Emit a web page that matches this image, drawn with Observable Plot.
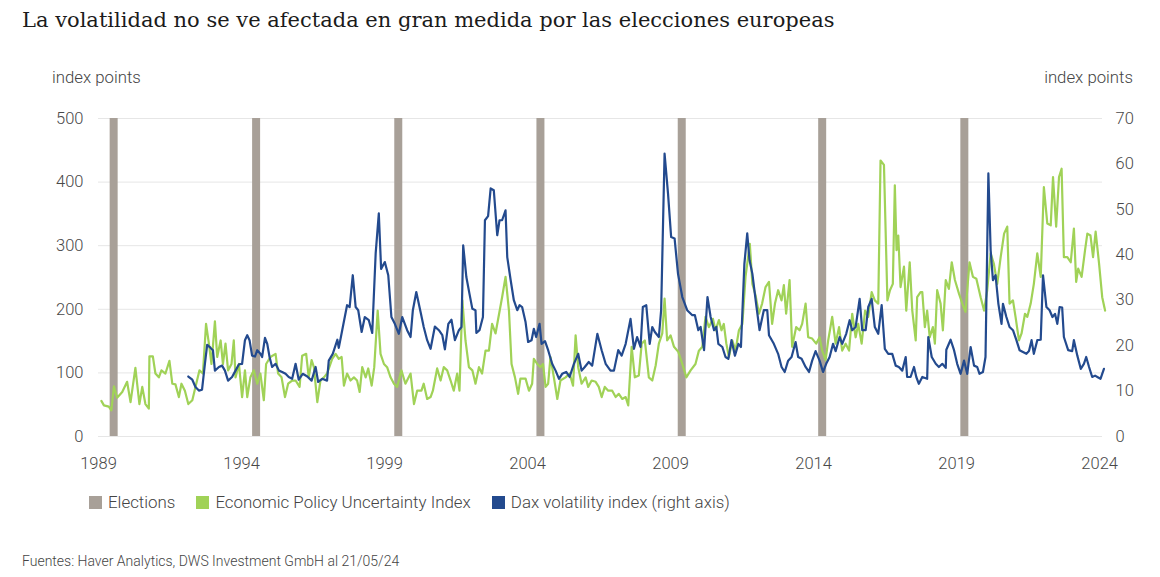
<!DOCTYPE html>
<html>
<head>
<meta charset="utf-8">
<script src="https://cdn.jsdelivr.net/npm/d3@7"></script>
<script src="https://cdn.jsdelivr.net/npm/@observablehq/plot@0.6"></script>
<style>
  html, body { margin: 0; padding: 0; background: #fff; }
  #page { position: relative; width: 1160px; height: 577px; overflow: hidden; background: #fff; font-family: Roboto, "Noto Sans", sans-serif; }
  #title { position: absolute; left: 22px; top: 8px; font-family: "DejaVu Serif", serif; font-size: 21px; color: #1b1b1b; white-space: nowrap; }
  .unit { position: absolute; top: 67px; font-size: 16.8px; font-weight: 300; color: #444; white-space: nowrap; }
  #unitL { left: 52px; }
  #unitR { right: 27px; }
  #chart { position: absolute; left: 0; top: 56px; }
  #legend { position: absolute; left: 89px; top: 492px; display: flex; align-items: center; font-size: 16.9px; font-weight: 300; color: #444; white-space: nowrap; }
  #legend .item { display: flex; align-items: center; margin-right: 21px; }
  #legend .sw { width: 13px; height: 13px; margin-right: 6px; }
  #caption { position: absolute; left: 22px; top: 553px; font-size: 14px; font-weight: 300; color: #444; white-space: nowrap; }
</style>
</head>
<body>
<div id="page">
  <div id="title">La volatilidad no se ve afectada en gran medida por las elecciones europeas</div>
  <div class="unit" id="unitL">index points</div>
  <div class="unit" id="unitR">index points</div>
  <div id="chart"></div>
  <div id="legend"></div>
  <div id="caption">Fuentes: Haver Analytics, DWS Investment GmbH al 21/05/24</div>
</div>
<script>
// ---- data (decimal year, value) ----
const elections = [1989.53, 1994.51, 1999.48, 2004.45, 2009.39, 2014.30, 2019.27];

// Economic Policy Uncertainty Index (left axis)
const epu = [
[1989.10,56],[1989.19,49],[1989.36,47],[1989.45,41],[1989.54,79],[1989.65,61],[1989.83,70],[1990.00,86],[1990.12,54],[1990.29,108],[1990.43,51],[1990.53,78],[1990.64,51],[1990.76,44],[1990.78,126],[1990.90,126],[1990.99,99],[1991.11,93],[1991.20,104],[1991.34,99],[1991.48,119],[1991.58,83],[1991.69,82],[1991.81,62],[1991.90,83],[1992.02,72],[1992.14,51],[1992.28,57],[1992.39,78],[1992.53,104],[1992.65,99],[1992.76,177],[1992.86,146],[1992.95,114],[1993.07,181],[1993.15,125],[1993.27,151],[1993.35,114],[1993.44,146],[1993.53,104],[1993.65,114],[1993.73,151],[1993.79,93],[1993.91,114],[1994.02,62],[1994.12,104],[1994.20,62],[1994.31,93],[1994.43,104],[1994.55,83],[1994.66,99],[1994.78,57],[1994.86,114],[1995.01,125],[1995.19,130],[1995.28,99],[1995.40,93],[1995.52,62],[1995.63,83],[1995.77,88],
[1995.89,88],[1996.03,78],[1996.12,127],[1996.26,130],[1996.35,93],[1996.45,120],[1996.53,109],[1996.65,54],[1996.76,88],[1996.88,93],[1996.99,99],[1997.17,122],[1997.29,130],[1997.40,122],[1997.50,125],[1997.58,80],[1997.69,99],[1997.81,88],[1997.93,93],[1998.04,88],[1998.13,70],[1998.22,109],[1998.34,93],[1998.43,107],[1998.55,80],[1998.64,109],[1998.76,198],[1998.86,130],[1998.98,114],[1999.09,109],[1999.21,93],[1999.33,83],[1999.44,78],[1999.59,104],[1999.73,83],[1999.91,99],[2000.03,51],[2000.14,72],[2000.29,72],[2000.37,83],[2000.49,59],[2000.61,62],[2000.69,72],[2000.84,107],[2000.96,88],[2001.07,109],[2001.19,104],[2001.31,88],[2001.42,72],[2001.54,99],[2001.62,72],[2001.72,214],[2001.83,151],[2001.95,109],[2002.07,104],[2002.18,83],[2002.30,109],[2002.41,99],[2002.53,135],[2002.65,135],[2002.76,177],[2002.88,162],
[2003.11,219],[2003.23,251],[2003.35,198],[2003.44,114],[2003.56,93],[2003.67,67],[2003.75,91],[2003.93,91],[2004.05,72],[2004.16,83],[2004.22,122],[2004.34,114],[2004.45,109],[2004.54,114],[2004.63,78],[2004.72,83],[2004.80,125],[2004.92,93],[2005.04,59],[2005.15,88],[2005.33,93],[2005.47,99],[2005.59,80],[2005.68,159],[2005.77,109],[2005.89,83],[2006.03,93],[2006.12,78],[2006.24,88],[2006.38,86],[2006.49,78],[2006.59,62],[2006.70,78],[2006.82,72],[2006.96,72],[2007.08,62],[2007.19,67],[2007.31,59],[2007.43,62],[2007.52,49],[2007.64,141],[2007.75,93],[2007.89,96],[2007.99,146],[2008.10,151],[2008.24,93],[2008.36,88],[2008.48,112],[2008.59,146],[2008.71,162],[2008.79,217],[2008.88,151],[2009.00,159],[2009.12,141],[2009.27,133],[2009.41,114],[2009.55,93],[2009.70,104],[2009.87,114],
[2009.99,135],[2010.11,141],[2010.22,188],[2010.34,172],[2010.48,185],[2010.57,167],[2010.69,183],[2010.78,167],[2010.86,177],[2010.95,146],[2011.04,125],[2011.16,151],[2011.27,135],[2011.39,167],[2011.51,177],[2011.62,251],[2011.77,303],[2011.86,240],[2011.97,222],[2012.09,193],[2012.20,209],[2012.32,235],[2012.44,243],[2012.55,177],[2012.65,209],[2012.76,230],[2012.88,214],[2012.96,238],[2013.04,193],[2013.16,246],[2013.25,141],[2013.39,172],[2013.51,167],[2013.60,177],[2013.72,209],[2013.81,156],[2013.95,154],[2014.09,146],[2014.21,156],[2014.30,135],[2014.42,120],[2014.51,151],[2014.65,188],[2014.77,146],[2014.89,172],[2015.00,135],[2015.12,146],[2015.24,135],[2015.35,193],[2015.47,156],[2015.56,177],[2015.68,146],[2015.80,198],[2015.91,188],[2016.03,227],[2016.14,214],[2016.26,209],[2016.34,434],[2016.46,427],[2016.58,214],[2016.67,230],[2016.77,240],[2016.84,395],[2016.90,293],[2016.96,316],
[2017.04,235],[2017.16,267],[2017.24,198],[2017.36,274],[2017.45,198],[2017.57,151],[2017.62,219],[2017.74,227],[2017.80,227],[2017.89,172],[2017.97,198],[2018.06,156],[2018.17,172],[2018.24,146],[2018.32,230],[2018.44,209],[2018.52,167],[2018.62,246],[2018.73,232],[2018.83,274],[2018.94,246],[2019.08,225],[2019.20,209],[2019.31,196],[2019.45,274],[2019.57,251],[2019.69,248],[2019.84,219],[2019.96,198],[2020.07,230],[2020.19,288],[2020.30,272],[2020.42,240],[2020.54,282],[2020.66,319],[2020.77,330],[2020.85,209],[2020.97,214],[2021.06,188],[2021.18,151],[2021.27,162],[2021.39,193],[2021.47,188],[2021.59,209],[2021.70,240],[2021.82,288],[2021.94,251],[2022.05,392],[2022.17,335],[2022.29,332],[2022.37,408],[2022.48,330],[2022.58,408],[2022.67,421],[2022.75,282],[2022.87,282],[2022.99,274],[2023.10,327],[2023.18,243],[2023.25,264],[2023.37,251],[2023.49,293],[2023.57,319],[2023.68,316],[2023.77,282],[2023.86,322],[2023.98,272],[2024.09,219],[2024.19,198]
];

// Dax volatility index (right axis)
const vdax = [
[1992.14,13.2],[1992.28,12.5],[1992.39,10.9],[1992.51,10.1],[1992.62,10.3],[1992.72,16.0],[1992.80,20.2],[1992.92,19.5],[1993.00,19.0],[1993.07,14.5],[1993.21,15.3],[1993.32,15.6],[1993.42,14.5],[1993.53,12.3],[1993.67,13.1],[1993.79,14.5],[1993.91,15.9],[1994.02,16.0],[1994.12,21.2],[1994.20,22.3],[1994.28,21.2],[1994.37,17.8],[1994.47,17.6],[1994.55,19.0],[1994.66,18.2],[1994.72,17.5],[1994.82,21.7],[1994.90,20.4],[1994.98,17.5],[1995.07,15.3],[1995.19,16.0],[1995.31,14.5],[1995.42,14.2],[1995.54,13.8],[1995.65,13.1],[1995.77,12.7],[1995.89,16.0],
[1996.00,12.5],[1996.14,13.8],[1996.30,13.2],[1996.45,12.3],[1996.59,15.3],[1996.68,12.0],[1996.82,12.7],[1996.99,12.3],[1997.05,16.7],[1997.19,18.2],[1997.35,21.3],[1997.40,19.5],[1997.52,23.4],[1997.69,28.9],[1997.78,28.5],[1997.89,35.5],[1997.99,28.5],[1998.08,27.8],[1998.20,23.0],[1998.31,26.3],[1998.45,25.6],[1998.57,22.8],[1998.69,40.3],[1998.80,49.1],[1998.88,36.9],[1999.01,38.4],[1999.13,35.5],[1999.24,26.3],[1999.36,24.8],[1999.50,22.6],[1999.62,26.3],[1999.79,23.4],[1999.91,21.9],[1999.99,27.8],[2000.11,31.8],[2000.26,27.4],[2000.37,24.1],[2000.49,21.2],[2000.61,19.3],[2000.76,24.2],[2000.90,23.4],[2001.02,22.3],[2001.11,19.2],[2001.23,24.8],[2001.34,25.7],[2001.46,21.2],[2001.60,23.4],[2001.69,24.1],[2001.75,42.1],[2001.86,35.1],[2001.97,31.4],[2002.07,28.1],[2002.18,27.8],[2002.21,22.8],[2002.32,23.4],[2002.44,26.3],[2002.51,47.6],[2002.62,48.5],[2002.71,54.6],[2002.82,54.2],[2002.94,44.3],[2003.02,47.6],
[2003.11,47.6],[2003.23,49.8],[2003.29,39.5],[2003.41,34.4],[2003.52,30.0],[2003.64,27.8],[2003.72,28.9],[2003.81,28.5],[2003.93,25.2],[2004.02,20.8],[2004.14,21.2],[2004.22,23.7],[2004.30,21.9],[2004.42,24.8],[2004.49,20.4],[2004.61,21.0],[2004.72,19.0],[2004.86,16.0],[2004.98,14.5],[2005.10,12.7],[2005.21,13.8],[2005.35,14.2],[2005.47,13.1],[2005.62,16.0],[2005.77,18.2],[2005.89,14.5],[2006.00,15.3],[2006.14,16.4],[2006.26,15.6],[2006.44,22.6],[2006.59,19.0],[2006.73,16.0],[2006.90,14.5],[2007.02,14.5],[2007.17,19.0],[2007.29,17.8],[2007.43,20.4],[2007.60,25.9],[2007.72,19.3],[2007.83,21.9],[2007.95,19.7],[2008.03,28.5],[2008.15,28.9],[2008.27,20.4],[2008.36,24.1],[2008.45,23.0],[2008.59,21.9],[2008.67,27.8],[2008.79,62.3],[2008.91,53.5],[2009.02,43.9],[2009.14,43.6],[2009.26,35.8],[2009.41,30.7],[2009.58,27.8],[2009.76,26.7],[2009.85,26.7],
[2009.97,23.4],[2010.05,24.1],[2010.17,19.0],[2010.29,30.7],[2010.40,26.3],[2010.52,23.4],[2010.60,24.1],[2010.67,20.4],[2010.81,19.7],[2010.92,17.5],[2011.02,17.1],[2011.13,21.2],[2011.25,17.8],[2011.37,20.4],[2011.46,19.7],[2011.58,38.0],[2011.68,44.7],[2011.76,38.8],[2011.86,35.8],[2011.99,29.2],[2012.11,23.4],[2012.26,27.8],[2012.38,27.8],[2012.44,22.3],[2012.61,20.4],[2012.76,18.2],[2012.88,15.3],[2012.99,14.2],[2013.11,16.7],[2013.23,17.5],[2013.37,20.8],[2013.46,17.5],[2013.58,17.1],[2013.72,15.3],[2013.84,14.2],[2013.95,16.7],[2014.07,18.8],[2014.21,16.7],[2014.33,14.2],[2014.44,16.0],[2014.56,17.5],[2014.68,20.4],[2014.77,18.8],[2014.91,21.9],[2015.00,20.4],[2015.14,22.6],[2015.26,25.6],[2015.35,23.4],[2015.47,24.1],[2015.61,30.3],[2015.70,23.4],[2015.82,23.4],[2015.91,28.5],[2016.03,30.3],[2016.14,24.1],[2016.26,22.6],[2016.38,28.9],[2016.49,19.3],[2016.61,18.2],[2016.75,18.2],[2016.87,15.6],
[2016.98,15.3],[2017.10,14.5],[2017.22,17.5],[2017.27,13.1],[2017.39,13.1],[2017.51,15.3],[2017.59,13.1],[2017.68,11.6],[2017.80,13.1],[2017.97,12.7],[2018.01,21.9],[2018.13,17.5],[2018.27,16.0],[2018.38,15.3],[2018.50,16.0],[2018.62,15.1],[2018.64,19.1],[2018.79,21.3],[2018.91,19.0],[2019.02,16.0],[2019.14,13.8],[2019.26,16.7],[2019.37,13.8],[2019.49,19.7],[2019.61,15.6],[2019.72,15.3],[2019.80,13.8],[2019.92,14.2],[2020.01,17.5],[2020.11,57.9],[2020.19,41.0],[2020.27,34.4],[2020.36,35.5],[2020.46,29.2],[2020.57,24.8],[2020.62,29.2],[2020.74,26.3],[2020.85,24.1],[2020.97,23.4],[2021.09,21.2],[2021.20,19.0],[2021.32,18.6],[2021.44,18.2],[2021.53,18.8],[2021.62,21.2],[2021.70,18.2],[2021.82,21.2],[2021.94,21.3],[2022.02,35.5],[2022.14,28.5],[2022.25,27.8],[2022.35,26.3],[2022.44,27.0],[2022.52,24.8],[2022.60,28.5],[2022.69,28.4],[2022.75,21.9],[2022.90,19.0],[2023.04,18.8],[2023.10,21.2],[2023.22,17.8],[2023.34,14.9],[2023.45,16.0],[2023.53,17.5],[2023.63,15.3],[2023.74,13.1],[2023.84,13.4],[2023.92,13.1],[2024.03,12.7],[2024.15,14.9]
];

const xTicks = [1989, 1994, 1999, 2004, 2009, 2014, 2019, 2024];
const leftTicks = [0, 100, 200, 300, 400, 500];
const rightTicks = [0, 10, 20, 30, 40, 50, 60, 70];

const seriesNames = ["Elections", "Economic Policy Uncertainty Index", "Dax volatility index (right axis)"];
const seriesColors = ["#a8a098", "#a0d257", "#234a8e"];

// ---- chart ----
const leftMax = 500, rightMax = 70;
const toLeft = v => v * leftMax / rightMax;

const chart = Plot.plot({
  width: 1160,
  height: 424,
  marginLeft: 98,
  marginRight: 58,
  marginTop: 62,
  marginBottom: 44,
  style: { fontFamily: "Roboto, 'Noto Sans', sans-serif", fontSize: "16px", fontWeight: 300, color: "#484848", background: "transparent" },
  x: { domain: [1989, 2024.1] },
  y: { domain: [0, leftMax] },
  marks: [
    Plot.ruleY(leftTicks, { stroke: "#e6e6e6", strokeWidth: 1 }),
    Plot.ruleX(elections, { x: d => d, y1: 0, y2: leftMax, stroke: seriesColors[0], strokeWidth: 8 }),
    Plot.line(epu, { x: d => d[0], y: d => d[1], stroke: seriesColors[1], strokeWidth: 2.2, strokeLinejoin: "round" }),
    Plot.line(vdax, { x: d => d[0], y: d => toLeft(d[1]), stroke: seriesColors[2], strokeWidth: 2.2, strokeLinejoin: "round" }),
    Plot.axisX({ ticks: xTicks, tickFormat: d => String(d), tickSize: 0, tickPadding: 21, label: null, fontSize: 16.5 }),
    Plot.axisY({ ticks: leftTicks, anchor: "left", tickSize: 0, tickPadding: 15, label: null, fontSize: 16.5 }),
    Plot.axisY(rightTicks.map(toLeft), { anchor: "right", tickFormat: d => String(Math.round(d * rightMax / leftMax)), tickSize: 0, tickPadding: 13, label: null, fontSize: 16.5 })
  ]
});
document.getElementById("chart").appendChild(chart);

// ---- legend ----
const legend = document.getElementById("legend");
seriesNames.forEach((name, i) => {
  const item = document.createElement("div");
  item.className = "item";
  const sw = document.createElement("div");
  sw.className = "sw";
  sw.style.background = seriesColors[i];
  const t = document.createElement("span");
  t.textContent = name;
  item.appendChild(sw);
  item.appendChild(t);
  legend.appendChild(item);
});
</script>
</body>
</html>
